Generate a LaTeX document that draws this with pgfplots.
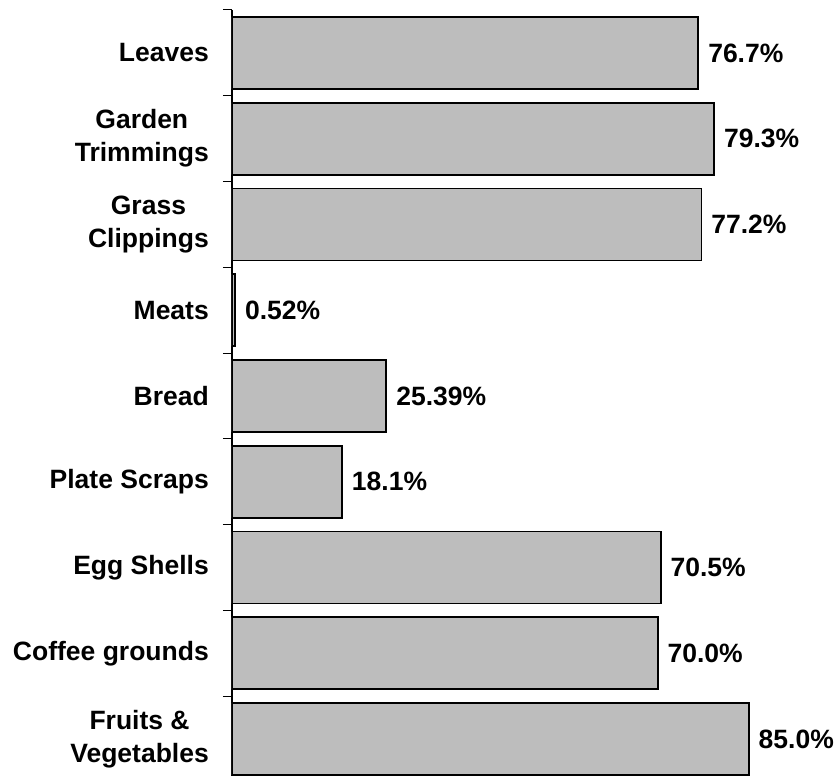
\documentclass[border=0pt]{standalone}
\usepackage{pgfplots}
\pgfplotsset{compat=1.18}
\usepackage{fontspec}
\setmainfont{Liberation Sans}
\begin{document}
\begin{tikzpicture}
\useasboundingbox (-232pt,0pt) rectangle (605pt,776pt);
\begin{axis}[
  at={(0pt,0pt)}, anchor=south west,
  scale only axis, width=605pt, height=766pt,
  xbar, bar width=72pt,
  xmin=0, xmax=99.5,
  ymin=-0.5, ymax=8.43, y dir=reverse,
  axis x line=none, axis y line=left,
  axis line style={-, line width=1.3pt, black},
  ytick={0,...,8},
  yticklabels={Leaves, {Garden\\Trimmings}, {Grass\\Clippings}, Meats, Bread, Plate Scraps, Egg Shells, Coffee grounds, {Fruits \&\\Vegetables}},
  minor ytick={-0.5,0.5,...,7.5},
  major tick length=0pt, minor tick length=9pt, tick align=outside,
  tick style={line width=1pt, black},
  yticklabel style={font=\fontsize{26.5}{33}\selectfont\bfseries, align=center, inner sep=0pt, xshift=-23pt},
  nodes near coords, point meta=explicit symbolic,
  nodes near coords style={font=\fontsize{26.5}{33}\selectfont\bfseries, anchor=west, inner sep=0pt, xshift=9pt},
]
\addplot[draw=black, line width=1.8pt, fill=black!26] coordinates {
  (76.7,0) [76.7\%]
  (79.3,1) [79.3\%]
  (77.2,2) [77.2\%]
  (0.52,3) [0.52\%]
  (25.39,4) [25.39\%]
  (18.1,5) [18.1\%]
  (70.5,6) [70.5\%]
  (70.0,7) [70.0\%]
  (85.0,8) [85.0\%]
};
\end{axis}
\end{tikzpicture}
\end{document}
